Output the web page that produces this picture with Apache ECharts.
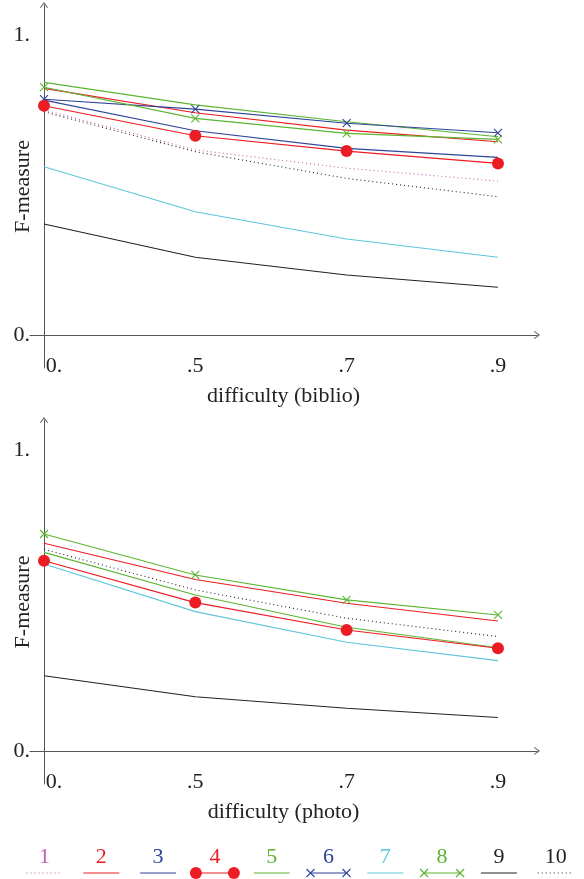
<!DOCTYPE html>
<html>
<head>
<meta charset="utf-8"/>
<title></title>
<script src="https://cdn.jsdelivr.net/npm/echarts@6/dist/echarts.min.js"></script>
<style>
  html, body { margin: 0; padding: 0; background: #fff; }
</style>
</head>
<body>
<div id="chart" style="width:584px;height:879px;"></div>
<script type="text/javascript">

// x positions are the four difficulty levels, drawn evenly spaced
var xLabels = ['0.', '.5', '.7', '.9'];
var yLabels = ['0.', '1.'];
var seriesNames = ['1', '2', '3', '4', '5', '6', '7', '8', '9', '10'];

// F-measure, difficulty (biblio)
var biblio1 = [0.750, 0.617, 0.556, 0.513];
var biblio2 = [0.822, 0.741, 0.683, 0.644];
var biblio3 = [0.783, 0.681, 0.622, 0.592];
var biblio4 = [0.764, 0.664, 0.613, 0.572];
var biblio5 = [0.842, 0.767, 0.711, 0.661];
var biblio6 = [0.786, 0.753, 0.706, 0.674];
var biblio7 = [0.561, 0.411, 0.320, 0.259];
var biblio8 = [0.826, 0.722, 0.672, 0.652];
var biblio9 = [0.370, 0.259, 0.200, 0.159];
var biblio10 = [0.744, 0.611, 0.522, 0.461];

// F-measure, difficulty (photo) - systems 1, 3, 6 not shown
var photo1 = null;
var photo2 = [0.690, 0.570, 0.491, 0.432];
var photo3 = null;
var photo4 = [0.632, 0.493, 0.402, 0.341];
var photo5 = [0.660, 0.518, 0.411, 0.343];
var photo6 = null;
var photo7 = [0.621, 0.463, 0.361, 0.300];
var photo8 = [0.721, 0.585, 0.502, 0.452];
var photo9 = [0.250, 0.180, 0.142, 0.111];
var photo10 = [0.670, 0.535, 0.441, 0.380];

var biblio = [biblio1, biblio2, biblio3, biblio4, biblio5, biblio6, biblio7, biblio8, biblio9, biblio10];
var photo = [photo1, photo2, photo3, photo4, photo5, photo6, photo7, photo8, photo9, photo10];

var FONT = 'Liberation Serif';
var FSIZE = 22;
var AXIS_COLOR = '#555';
var CROSS = 'path://M0,0L10,10M10,0L0,10';
var ARROW = 'path://M0,7L5,0L10,7L9,7.6L5,2L1,7.6Z';

// line styles for the 10 systems
var styles = [
    { color: '#c060b0', type: [1, 3], marker: 'none' },
    { color: '#ec1c24', type: 'solid', marker: 'none' },
    { color: '#2e4598', type: 'solid', marker: 'none' },
    { color: '#ec1c24', type: 'solid', marker: 'circle' },
    { color: '#5cb531', type: 'solid', marker: 'none' },
    { color: '#2e4598', type: 'solid', marker: 'cross' },
    { color: '#5ec6da', type: 'solid', marker: 'none' },
    { color: '#5cb531', type: 'solid', marker: 'cross' },
    { color: '#222222', type: 'solid', marker: 'none' },
    { color: '#222222', type: [1, 3], marker: 'none' }
];

function pairs(vals) {
    var out = [];
    for (var i = 0; i < vals.length; i++) out.push([i, vals[i]]);
    return out;
}

function makeSeries(set, gridIdx) {
    var out = [];
    for (var i = 0; i < set.length; i++) {
        if (!set[i]) continue;
        var st = styles[i];
        var s = {
            name: seriesNames[i],
            type: 'line',
            xAxisIndex: gridIdx,
            yAxisIndex: gridIdx,
            data: pairs(set[i]),
            silent: true,
            animation: false,
            lineStyle: { color: st.color, width: 1.1, type: st.type },
            symbol: 'none',
            z: i === 3 ? 15 : 10
        };
        if (st.marker === 'circle') {
            s.symbol = 'circle';
            s.symbolSize = 12;
            s.showAllSymbol = true;
            s.itemStyle = { color: st.color };
        } else if (st.marker === 'cross') {
            s.symbol = CROSS;
            s.symbolSize = 8;
            s.showAllSymbol = true;
            s.itemStyle = { color: 'rgba(0,0,0,0)', borderColor: st.color, borderWidth: 1.1 };
        }
        out.push(s);
    }
    return out;
}

function xAxisFor(gridIdx, title) {
    return {
        type: 'value',
        gridIndex: gridIdx,
        min: -0.0925,
        max: 3.258,
        name: title,
        nameLocation: 'middle',
        nameGap: 17,
        nameMoveOverlap: false,
        nameTextStyle: { fontFamily: FONT, fontSize: FSIZE, color: '#222' },
        axisLine: {
            onZero: true,
            symbol: ['none', ARROW],
            symbolSize: [9, 6],
            lineStyle: { color: AXIS_COLOR, width: 1 }
        },
        axisTick: { show: false },
        splitLine: { show: false },
        axisLabel: {
            customValues: [0, 1, 2, 3],
            formatter: function (v) {
                var i = Math.round(v);
                // first label sits just right of the vertical axis
                return i === 0 ? '{first|' + xLabels[i] + '}' : xLabels[i];
            },
            rich: { first: { padding: [0, 0, 0, 20], fontFamily: FONT, fontSize: FSIZE, color: '#222' } },
            margin: -13,
            fontFamily: FONT,
            fontSize: FSIZE,
            color: '#222'
        }
    };
}

function yAxisFor(gridIdx) {
    return {
        type: 'value',
        gridIndex: gridIdx,
        min: -0.11,
        max: 1.1,
        name: 'F-measure',
        nameLocation: 'middle',
        nameGap: -4,
        nameRotate: 90,
        nameMoveOverlap: false,
        nameTextStyle: { fontFamily: FONT, fontSize: FSIZE, color: '#222' },
        axisLine: {
            onZero: true,
            symbol: ['none', ARROW],
            symbolSize: [9, 6],
            lineStyle: { color: AXIS_COLOR, width: 1 }
        },
        axisTick: { show: false },
        splitLine: { show: false },
        axisLabel: {
            customValues: [0, 1],
            formatter: function (v) { return yLabels[Math.round(v)]; },
            margin: 0,
            fontFamily: FONT,
            fontSize: FSIZE,
            color: '#222'
        }
    };
}

// hand-drawn legend: number above a sample of each line
function legendGraphics() {
    var g = [];
    for (var i = 0; i < seriesNames.length; i++) {
        var st = styles[i];
        var cx = 44.5 + i * 56.8;
        g.push({
            type: 'text', x: cx, y: 857, silent: true,
            style: { text: seriesNames[i], fill: st.color, font: FSIZE + 'px ' + FONT, align: 'center', verticalAlign: 'middle' }
        });
        g.push({
            type: 'line', silent: true,
            shape: { x1: cx - 18, y1: 873, x2: cx + 18, y2: 873 },
            style: { stroke: st.color, lineWidth: 1.1, lineDash: st.type === 'solid' ? null : st.type }
        });
        if (st.marker === 'circle') {
            g.push({ type: 'circle', silent: true, shape: { cx: cx - 19, cy: 873, r: 6 }, style: { fill: st.color } });
            g.push({ type: 'circle', silent: true, shape: { cx: cx + 19, cy: 873, r: 6 }, style: { fill: st.color } });
        } else if (st.marker === 'cross') {
            [cx - 18, cx + 18].forEach(function (px) {
                g.push({ type: 'line', silent: true, shape: { x1: px - 4, y1: 869, x2: px + 4, y2: 877 }, style: { stroke: st.color, lineWidth: 1.1 } });
                g.push({ type: 'line', silent: true, shape: { x1: px - 4, y1: 877, x2: px + 4, y2: 869 }, style: { stroke: st.color, lineWidth: 1.1 } });
            });
        }
    }
    return g;
}

var chart = echarts.init(document.getElementById('chart'), null, { renderer: 'canvas' });

var option = {
    backgroundColor: '#fff',
    animation: false,
    grid: [
        { left: 30, right: 47, top: 5, height: 363, outerBoundsMode: 'none', containLabel: false },
        { left: 30, right: 47, top: 420, height: 364, outerBoundsMode: 'none', containLabel: false }
    ],
    xAxis: [xAxisFor(0, 'difficulty (biblio)'), xAxisFor(1, 'difficulty (photo)')],
    yAxis: [yAxisFor(0), yAxisFor(1)],
    series: makeSeries(biblio, 0).concat(makeSeries(photo, 1)),
    graphic: legendGraphics()
};

chart.setOption(option);

</script>
</body>
</html>
